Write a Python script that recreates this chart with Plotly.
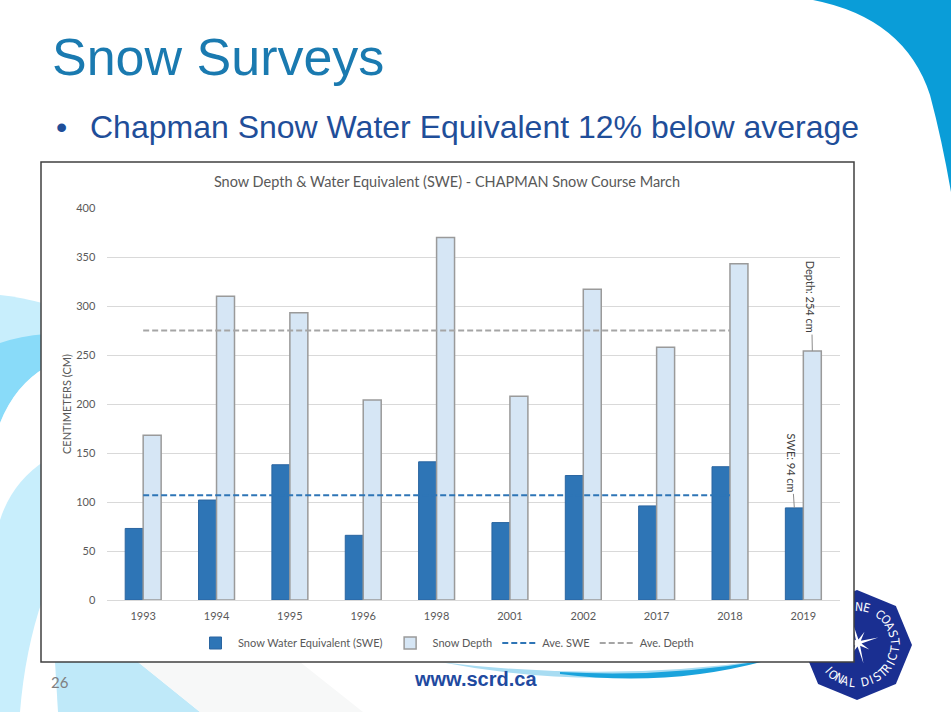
import math
import plotly.graph_objects as go

# ---------------- data ----------------
years = ["1993", "1994", "1995", "1996", "1998", "2001", "2002", "2017", "2018", "2019"]
swe = [73, 102, 138, 66, 141, 79, 127, 96, 136, 94]
depth = [168, 310, 293, 204, 370, 208, 317, 258, 343, 254]
avg_years = ["1993", "1994", "1995", "1996", "1998", "2001", "2002", "2017", "2018"]
avg_swe = [107, 107, 107, 107, 107, 107, 107, 107, 107]
avg_depth = [275, 275, 275, 275, 275, 275, 275, 275, 275]
y_ticks = [0, 50, 100, 150, 200, 250, 300, 350, 400]

W, H = 951, 712


def px(x):
    return x / W


def py(y):
    return 1 - y / H


def path(*segs):
    out = []
    for seg in segs:
        cmd = seg[0]
        pts = seg[1:]
        if cmd == "L":
            for a, b in pts:
                out.append(f"L {px(a):.5f},{py(b):.5f}")
        else:
            out.append(cmd + " " + " ".join(f"{px(a):.5f},{py(b):.5f}" for a, b in pts))
    return " ".join(out) + " Z"


CF = "Lato, 'Open Sans', sans-serif"
GRAY = "#595959"

fig = go.Figure()

fig.add_trace(go.Bar(
    x=years, y=swe, name="Snow Water Equivalent (SWE)",
    marker=dict(color="#2e75b6", line=dict(color="#2a65a0", width=1)),
))
fig.add_trace(go.Bar(
    x=years, y=depth, name="Snow Depth",
    marker=dict(color="#d6e6f5", line=dict(color="#9a9a9a", width=1.5)),
))
fig.add_trace(go.Scatter(
    x=avg_years, y=avg_swe, name="Ave. SWE", mode="lines",
    line=dict(color="#2e75b6", width=2, dash="6px,3px"),
))
fig.add_trace(go.Scatter(
    x=avg_years, y=avg_depth, name="Ave. Depth", mode="lines",
    line=dict(color="#a5a5a5", width=2, dash="6px,3px"),
))

shapes = []
# top-right swoosh
shapes.append(dict(type="path", xref="paper", yref="paper", layer="below",
                   path=path(("M", (813, 0)), ("Q", (905, 18), (930, 95)), ("Q", (942, 140), (951, 192)), ("L", (951, 0))),
                   fillcolor="#0a9dd8", line=dict(width=0)))
# left swooshes
shapes.append(dict(type="path", xref="paper", yref="paper", layer="below",
                   path=path(("M", (0, 295)), ("Q", (20, 297), (46, 304)), ("L", (46, 712), (0, 712))),
                   fillcolor="#c8eefc", line=dict(width=0)))
shapes.append(dict(type="path", xref="paper", yref="paper", layer="below",
                   path=path(("M", (0, 343)), ("Q", (20, 336), (46, 334)), ("L", (46, 367)), ("Q", (15, 385), (0, 423))),
                   fillcolor="#89dbf9", line=dict(width=0)))
shapes.append(dict(type="path", xref="paper", yref="paper", layer="below",
                   path=path(("M", (0, 423)), ("Q", (15, 385), (46, 367)), ("L", (46, 460)), ("Q", (12, 482), (0, 520))),
                   fillcolor="#ffffff", line=dict(width=0)))
shapes.append(dict(type="path", xref="paper", yref="paper", layer="below",
                   path=path(("M", (20, 712)), ("Q", (25, 650), (43, 598)), ("L", (43, 662), (55, 662), (58, 712))),
                   fillcolor="#ffffff", line=dict(width=0)))
shapes.append(dict(type="path", xref="paper", yref="paper", layer="below",
                   path=path(("M", (55, 662)), ("L", (138, 662), (200, 712), (58, 712))),
                   fillcolor="#bfe9f9", line=dict(width=0)))
shapes.append(dict(type="path", xref="paper", yref="paper", layer="below",
                   path=path(("M", (138, 662)), ("L", (300, 662), (363, 712), (200, 712))),
                   fillcolor="#f7f8f8", line=dict(width=0)))
# bottom swoosh under website
shapes.append(dict(type="path", xref="paper", yref="paper", layer="below",
                   path=path(("M", (440, 662)), ("Q", (610, 683), (772, 659)), ("Q", (610, 695), (440, 662))),
                   fillcolor="#a8dcf2", line=dict(width=0)))
shapes.append(dict(type="path", xref="paper", yref="paper", layer="below",
                   path=path(("M", (560, 672)), ("Q", (670, 678), (772, 659)), ("Q", (670, 688), (560, 674))),
                   fillcolor="#1aa3dc", line=dict(width=0)))
# logo octagon
cx, cy, R = 857, 645, 55
oct_pts = [(cx + R * math.cos(math.radians(a)), cy - R * math.sin(math.radians(a))) for a in range(0, 360, 45)]
shapes.append(dict(type="path", xref="paper", yref="paper", layer="below",
                   path=path(("M", oct_pts[0]), ("L", *oct_pts[1:])),
                   fillcolor="#1a2f91", line=dict(width=0)))
# star
star = []
for k in range(16):
    r = (21 if k % 4 == 0 else 13) if k % 2 == 0 else 3.5
    a = math.radians(k * 22.5 + 15)
    star.append((cx + 1 + r * math.cos(a), cy - 2 - r * math.sin(a)))
shapes.append(dict(type="path", xref="paper", yref="paper", layer="below",
                   path=path(("M", star[0]), ("L", *star[1:])),
                   fillcolor="#ffffff", line=dict(width=0)))
# chart box
shapes.append(dict(type="rect", xref="paper", yref="paper", layer="below",
                   x0=px(41), x1=px(854), y0=py(662), y1=py(162),
                   fillcolor="#ffffff", line=dict(color="#404040", width=1.5)))

annotations = []
annotations.append(dict(text="Snow Surveys", x=px(50), y=py(57), xref="paper", yref="paper",
                        xanchor="left", yanchor="middle", showarrow=False,
                        font=dict(family="Liberation Sans, Arial", size=52, color="#1a7ab0")))
annotations.append(dict(text="•", x=px(61), y=py(127), xref="paper", yref="paper",
                        xanchor="center", yanchor="middle", showarrow=False,
                        font=dict(family="Liberation Sans, Arial", size=32, color="#1f4e99")))
annotations.append(dict(text="Chapman Snow Water Equivalent 12% below average", x=px(88), y=py(127),
                        xref="paper", yref="paper", xanchor="left", yanchor="middle", showarrow=False,
                        font=dict(family="Liberation Sans, Arial", size=32, color="#1f4e99")))
annotations.append(dict(text="26", x=px(60), y=py(682), xref="paper", yref="paper",
                        xanchor="center", yanchor="middle", showarrow=False,
                        font=dict(family=CF, size=15, color="#7f7f7f")))
annotations.append(dict(text="<b>www.scrd.ca</b>", x=px(475), y=py(679), xref="paper", yref="paper",
                        xanchor="center", yanchor="middle", showarrow=False,
                        font=dict(family="Liberation Sans, Arial", size=20, color="#1f4aa0")))
# data labels (last category index on the category axis)
last = len(years) - 1
annotations.append(dict(text="Depth: 254 cm", x=last, y=depth[last], xref="x", yref="y", xshift=9,
                        showarrow=True, arrowhead=0, arrowwidth=1, arrowcolor="#8c8c8c", ax=-1, ay=-54,
                        standoff=0, textangle=90, font=dict(family=CF, size=11, color="#404040")))
annotations.append(dict(text="SWE: 94 cm", x=last, y=swe[last], xref="x", yref="y", xshift=-9,
                        showarrow=True, arrowhead=0, arrowwidth=1, arrowcolor="#8c8c8c", ax=-3, ay=-45,
                        standoff=0, textangle=90, font=dict(family=CF, size=11, color="#404040")))


# logo lettering (only parts not hidden by the chart box)
def visible(x, y):
    return x > 859 or y > 668


LOGO_FONT = "'DejaVu Sans Condensed', 'Liberation Sans', Arial"
top_txt = "SUNSHINE COAST"
for i, ch in enumerate(top_txt):
    th = 6 + (len(top_txt) - 1 - i) * 11.5
    lx = cx + 38 * math.cos(math.radians(th))
    ly = cy - 38 * math.sin(math.radians(th))
    if ch != " " and visible(lx, ly):
        annotations.append(dict(text=ch, x=px(lx), y=py(ly), xref="paper", yref="paper",
                                showarrow=False, textangle=90 - th, xanchor="center", yanchor="middle",
                                font=dict(family=LOGO_FONT, size=12, color="#ffffff")))
bot_txt = "REGIONAL DISTRICT"
for i, ch in enumerate(bot_txt):
    ph = -169 + i * 10.1
    lx = cx + 38 * math.cos(math.radians(ph))
    ly = cy - 38 * math.sin(math.radians(ph))
    if ch != " " and visible(lx, ly):
        annotations.append(dict(text=ch, x=px(lx), y=py(ly), xref="paper", yref="paper",
                                showarrow=False, textangle=-(ph + 90), xanchor="center", yanchor="middle",
                                font=dict(family=LOGO_FONT, size=12, color="#ffffff")))

fig.update_layout(
    width=W, height=H, autosize=False,
    margin=dict(l=0, r=0, t=0, b=0, pad=0, autoexpand=False),
    paper_bgcolor="#ffffff",
    plot_bgcolor="rgba(0,0,0,0)",
    barmode="group", bargap=0.51, bargroupgap=0,
    font=dict(family=CF, color=GRAY, size=11),
    title=dict(text="Snow Depth & Water Equivalent (SWE) - CHAPMAN Snow Course March",
               x=px(447), y=py(182), xanchor="center", yanchor="middle", xref="paper", yref="paper",
               font=dict(family=CF, size=14.5, color=GRAY)),
    xaxis=dict(type="category", categoryorder="array", categoryarray=years,
               range=[-0.5, len(years) - 0.5], autorange=False,
               domain=[px(106.5), px(840)], showgrid=False, automargin=False,
               showline=True, linecolor="#d9d9d9", linewidth=1,
               ticks="outside", ticklen=6, tickcolor="rgba(0,0,0,0)",
               tickfont=dict(family=CF, size=11, color=GRAY)),
    yaxis=dict(range=[0, 400], autorange=False, domain=[py(600), py(208)], tickvals=y_ticks,
               showgrid=True, gridcolor="#d9d9d9", gridwidth=1, zeroline=False, automargin=False,
               ticks="outside", ticklen=8, tickcolor="rgba(0,0,0,0)",
               tickfont=dict(family=CF, size=11, color=GRAY),
               title=dict(text="CENTIMETERS (CM)", standoff=2, font=dict(family=CF, size=11, color=GRAY))),
    legend=dict(orientation="h", x=px(446), xanchor="center", y=py(643), yanchor="middle",
                font=dict(family=CF, size=11, color=GRAY), bgcolor="rgba(0,0,0,0)",
                itemwidth=35, traceorder="normal"),
    shapes=shapes,
    annotations=annotations,
)

fig.write_html("out.html")
